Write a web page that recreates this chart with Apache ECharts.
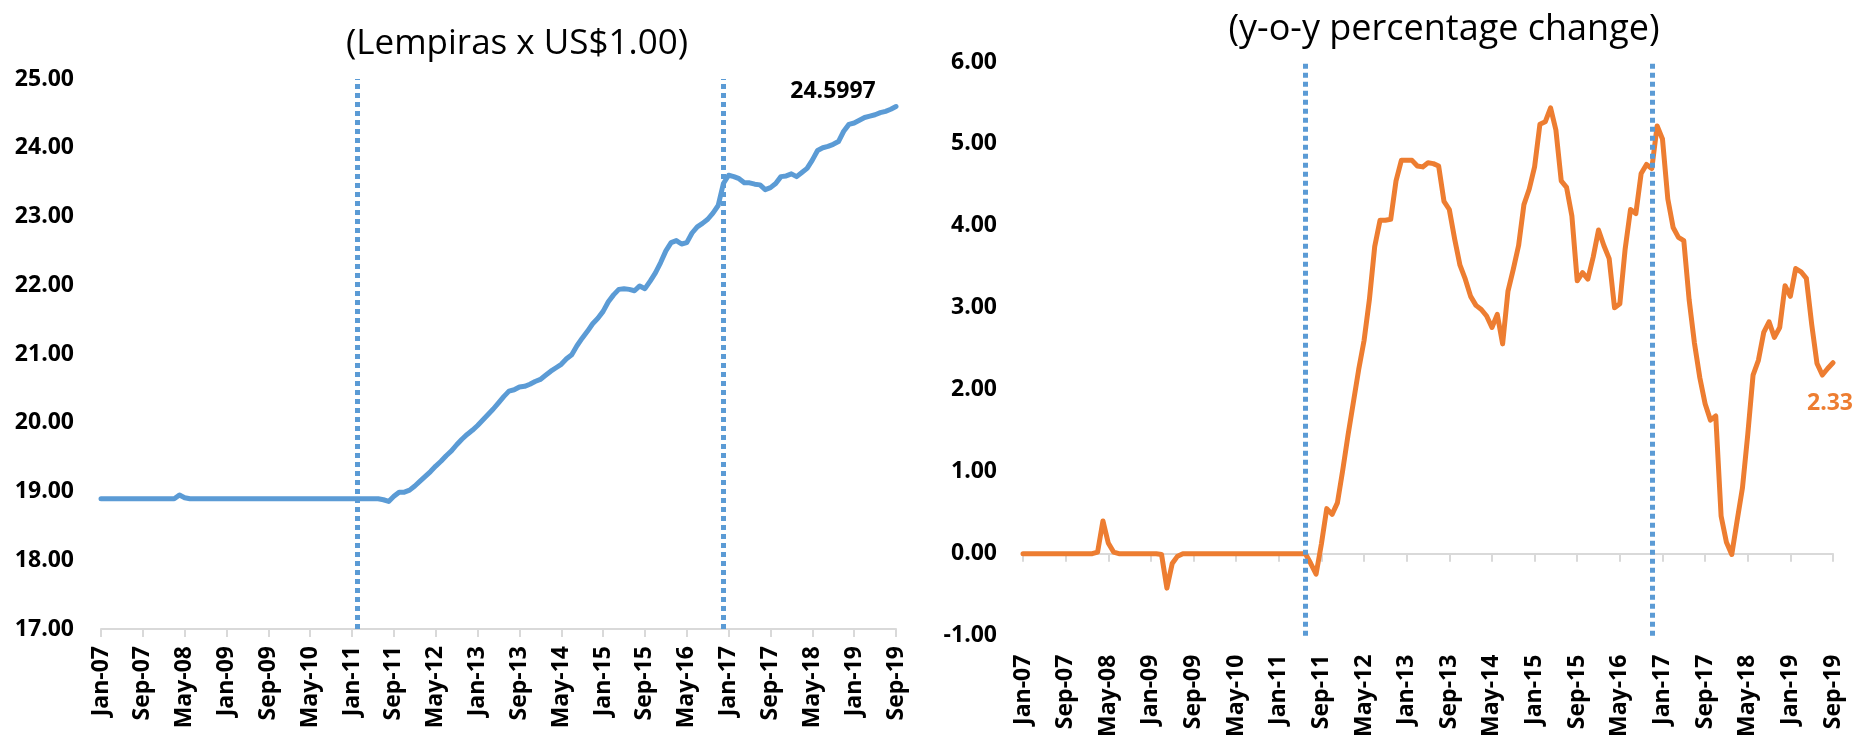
<!DOCTYPE html>
<html>
<head>
<meta charset="utf-8">
<script src="https://cdn.jsdelivr.net/npm/echarts@6/dist/echarts.min.js"></script>
<style>
  html, body { margin: 0; padding: 0; background: #fff; }
  #chart { width: 1866px; height: 740px; }
</style>
</head>
<body>
<div id="chart"></div>
<script>
// month labels Jan-07 .. Sep-19
const monthNames = ['Jan', 'Feb', 'Mar', 'Apr', 'May', 'Jun', 'Jul', 'Aug', 'Sep', 'Oct', 'Nov', 'Dec']
const months = []
for (let y = 7; y <= 19; y++) {
  for (let m = 0; m < 12; m++) {
    if (y === 19 && m > 8) break
    months.push(monthNames[m] + '-' + String(y).padStart(2, '0'))
  }
}

// exchange rate, lempiras per US$
const exchangeRate = [
  18.8951, 18.8951, 18.8951, 18.8951, 18.8951, 18.8951, 18.8951, 18.8951, 18.8951, 18.8951,
  18.8951, 18.8951, 18.8951, 18.8951, 18.8951, 18.95, 18.91,
  18.8951, 18.8951, 18.8951, 18.8951, 18.8951, 18.8951, 18.8951, 18.8951, 18.8951, 18.8951,
  18.8951, 18.8951, 18.8951, 18.8951, 18.8951, 18.8951, 18.8951, 18.8951, 18.8951, 18.8951,
  18.8951, 18.8951, 18.8951, 18.8951, 18.8951, 18.8951, 18.8951, 18.8951, 18.8951, 18.8951,
  18.8951, 18.8951, 18.8951, 18.8951, 18.8951, 18.8951, 18.8951,
  18.88, 18.855, 18.93, 18.99, 18.99, 19.02,
  19.08, 19.15, 19.22, 19.29, 19.37, 19.44, 19.52, 19.59,
  19.68, 19.76, 19.83, 19.89, 19.96, 20.04, 20.12, 20.2, 20.29, 20.38,
  20.46, 20.48, 20.52, 20.53, 20.56, 20.6, 20.63, 20.69, 20.75, 20.8,
  20.85, 20.93, 20.99, 21.12, 21.23, 21.33, 21.44, 21.52, 21.62, 21.76,
  21.86, 21.94, 21.95, 21.94, 21.92, 21.99, 21.95, 22.06, 22.18, 22.33,
  22.5, 22.62, 22.65, 22.6, 22.62, 22.76, 22.85, 22.9, 22.96, 23.05,
  23.16, 23.48, 23.6, 23.58, 23.55, 23.49, 23.49, 23.47, 23.46, 23.39,
  23.42, 23.48, 23.58, 23.59, 23.62, 23.58, 23.64, 23.7, 23.82, 23.96,
  24.0, 24.02, 24.05, 24.09, 24.24, 24.34, 24.36, 24.4, 24.44, 24.46,
  24.48, 24.51, 24.53, 24.56, 24.5997
]

// year-on-year percentage change
const yoyChange = [
  0, 0, 0, 0, 0, 0, 0, 0, 0, 0, 0, 0, 0, 0,
  0.02, 0.40, 0.13, 0.02,
  0, 0, 0, 0, 0, 0, 0, 0,
  -0.01, -0.42, -0.12, -0.03,
  0, 0, 0, 0, 0, 0, 0, 0, 0, 0, 0, 0, 0, 0, 0, 0, 0, 0, 0, 0, 0, 0, 0, 0,
  -0.12, -0.25, 0.12, 0.55, 0.48, 0.62,
  1.02, 1.45, 1.85, 2.25, 2.6, 3.1, 3.75, 4.07, 4.07, 4.08,
  4.55, 4.8, 4.8, 4.8, 4.73, 4.72, 4.77, 4.76, 4.73, 4.3,
  4.2, 3.84, 3.52, 3.35, 3.14, 3.03, 2.98, 2.9, 2.76, 2.92,
  2.56, 3.2, 3.47, 3.76, 4.26, 4.45, 4.72, 5.24, 5.27, 5.44,
  5.17, 4.55, 4.47, 4.12, 3.33, 3.43, 3.35, 3.62, 3.95, 3.76,
  3.6, 3.0, 3.05, 3.72, 4.2, 4.15, 4.64, 4.75, 4.7, 5.22,
  5.06, 4.33, 3.98, 3.86, 3.82, 3.1, 2.57, 2.15, 1.83, 1.63,
  1.68, 0.46, 0.14, -0.01, 0.4, 0.8, 1.45, 2.18, 2.36, 2.7,
  2.83, 2.64, 2.76, 3.27, 3.14, 3.48, 3.44, 3.36, 2.8, 2.32,
  2.18, 2.26, 2.33
]

// dotted vertical markers (category names)
const rateMarkers = ['Feb-11', 'Dec-16']
const yoyMarkers = ['Jun-11', 'Nov-16']

const titles = ['(Lempiras x US$1.00)', '(y-o-y percentage change)']

const FONT = '"Open Sans", "Noto Sans", sans-serif'
const BLUE = '#5B9BD5'
const ORANGE = '#ED7D31'
const GREY = '#D9D9D9'

const chart = echarts.init(document.getElementById('chart'))

const xLabel = {
  rotate: 90,
  interval: 7,
  fontFamily: FONT,
  fontWeight: 'bold',
  fontSize: 23,
  color: '#000'
}
const yLabel = {
  fontFamily: FONT,
  fontWeight: 'bold',
  fontSize: 23,
  color: '#000',
  formatter: v => v.toFixed(2)
}
const markerLines = names => ({
  silent: true,
  symbol: 'none',
  label: { show: false },
  lineStyle: { color: BLUE, width: 5, type: [5, 4] },
  data: names.map(n => ({ xAxis: n }))
})

const lastRate = exchangeRate[exchangeRate.length - 1]
const lastYoy = yoyChange[yoyChange.length - 1]

const option = {
  animation: false,
  graphic: [
    { type: 'text', x: 517, y: 44, style: { text: titles[0], font: '35px ' + FONT, fill: '#000', textAlign: 'center', textVerticalAlign: 'middle' } },
    { type: 'text', x: 1444, y: 30, style: { text: titles[1], font: '36px ' + FONT, fill: '#000', textAlign: 'center', textVerticalAlign: 'middle' } }
  ],
  grid: [
    { left: 101, right: 970, top: 79, bottom: 111 },
    { left: 1023, right: 33, top: 62, bottom: 103 }
  ],
  xAxis: [
    {
      gridIndex: 0, type: 'category', data: months, boundaryGap: false,
      axisLine: { lineStyle: { color: GREY, width: 2 } },
      axisTick: { interval: 7, length: 8, lineStyle: { color: GREY, width: 2 } },
      axisLabel: Object.assign({ margin: 17 }, xLabel)
    },
    {
      gridIndex: 1, type: 'category', data: months, boundaryGap: false, position: 'bottom',
      axisLine: { show: false, onZero: false },
      axisTick: { show: false },
      axisLabel: Object.assign({ margin: 19 }, xLabel)
    },
    {
      gridIndex: 1, type: 'category', data: months, boundaryGap: false, position: 'bottom',
      axisLine: { onZero: true, lineStyle: { color: GREY, width: 2 } },
      axisTick: { interval: 7, length: 8, lineStyle: { color: GREY, width: 2 } },
      axisLabel: { show: false }
    }
  ],
  yAxis: [
    {
      gridIndex: 0, type: 'value', min: 17, max: 25, interval: 1,
      axisLine: { show: false }, axisTick: { show: false }, splitLine: { show: false },
      axisLabel: Object.assign({ margin: 27 }, yLabel)
    },
    {
      gridIndex: 1, type: 'value', min: -1, max: 6, interval: 1,
      axisLine: { show: false }, axisTick: { show: false }, splitLine: { show: false },
      axisLabel: Object.assign({ margin: 26 }, yLabel)
    }
  ],
  series: [
    {
      type: 'line', xAxisIndex: 0, yAxisIndex: 0, data: exchangeRate,
      showSymbol: false, symbol: 'none',
      lineStyle: { color: BLUE, width: 5, join: 'round', cap: 'round' },
      markLine: markerLines(rateMarkers),
      markPoint: {
        silent: true,
        symbol: 'circle', symbolSize: 1,
        itemStyle: { color: 'rgba(0,0,0,0)' },
        label: {
          position: 'inside', offset: [-63, -15],
          fontFamily: FONT, fontWeight: 'bold', fontSize: 23, color: '#000',
          formatter: () => lastRate.toFixed(4)
        },
        data: [{ coord: [months[months.length - 1], lastRate] }]
      }
    },
    {
      type: 'line', xAxisIndex: 1, yAxisIndex: 1, data: yoyChange,
      showSymbol: false, symbol: 'none',
      lineStyle: { color: ORANGE, width: 5, join: 'round', cap: 'round' },
      markLine: markerLines(yoyMarkers),
      markPoint: {
        silent: true,
        symbol: 'circle', symbolSize: 1,
        itemStyle: { color: 'rgba(0,0,0,0)' },
        label: {
          position: 'inside', offset: [-3, 41],
          fontFamily: FONT, fontWeight: 'bold', fontSize: 23, color: ORANGE,
          formatter: () => lastYoy.toFixed(2)
        },
        data: [{ coord: [months[months.length - 1], lastYoy] }]
      }
    }
  ]
}

chart.setOption(option)
</script>
</body>
</html>
